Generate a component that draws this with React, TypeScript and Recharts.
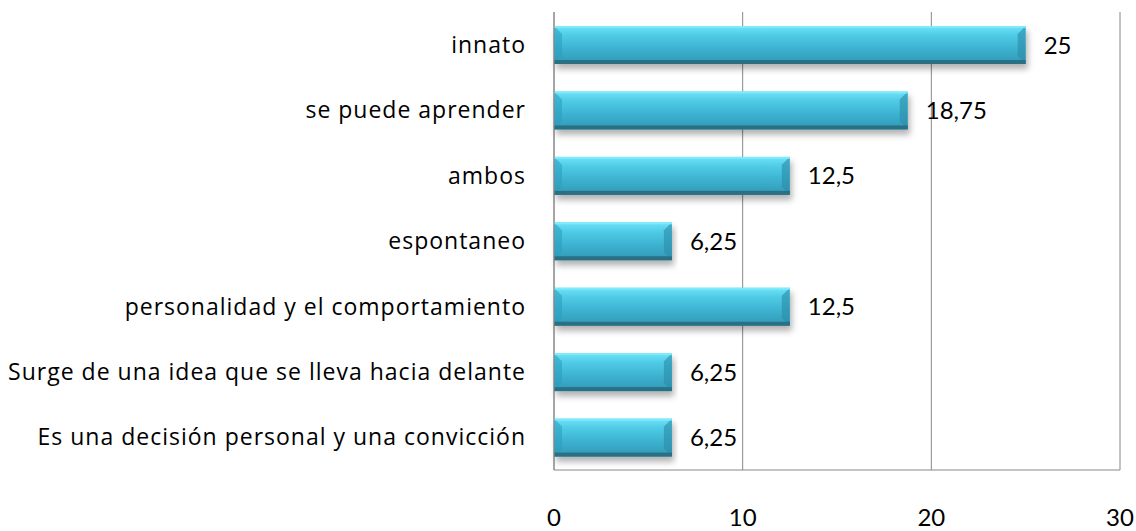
import { BarChart, Bar, XAxis, YAxis, CartesianGrid, LabelList } from "recharts";

const categories = [
  "innato",
  "se puede aprender",
  "ambos",
  "espontaneo",
  "personalidad y el comportamiento",
  "Surge de una idea que se lleva hacia delante",
  "Es una decisión personal y una convicción",
];
const values = [25, 18.75, 12.5, 6.25, 12.5, 6.25, 6.25];
const xTicks = [0, 10, 20, 30];

const data = categories.map((name, i) => ({ name, value: values[i] }));

const FONT = "Lato, 'Open Sans', sans-serif";
const LABEL_FONT = "'Open Sans', Lato, sans-serif";

function formatValue(v: number) {
  return String(v).replace(".", ",");
}

function BevelBar(props: any) {
  const { x, y, width, height } = props;
  if (!width || width <= 0) return null;
  const b = 8;
  return (
    <g filter="url(#barShadow)">
      <rect x={x} y={y} width={width} height={height} fill="url(#barFill)" />
      <polygon
        points={`${x},${y} ${x + b},${y + b} ${x + b},${y + height - b} ${x},${y + height}`}
        fill="#2a9cbb"
        opacity={0.55}
      />
      <polygon
        points={`${x + width},${y} ${x + width - b},${y + b} ${x + width - b},${y + height - b} ${x + width},${y + height}`}
        fill="#2b8aa6"
        opacity={0.6}
      />
      <rect x={x} y={y + height - 4} width={width} height={4} fill="#2a6f84" />
      <rect x={x} y={y} width={width} height={2} fill="#7eeafb" />
    </g>
  );
}

export default function App() {
  return (
    <div style={{ position: "absolute", left: 0, top: 0, background: "#fff" }}>
      <BarChart
        width={1136}
        height={531}
        data={data}
        layout="vertical"
        margin={{ top: 12, right: 16, bottom: 0, left: 0 }}
        barCategoryGap={0}
      >
        <defs>
          <linearGradient id="barFill" x1="0" y1="0" x2="0" y2="1">
            <stop offset="0" stopColor="#6fe3f7" />
            <stop offset="0.25" stopColor="#4fcbe6" />
            <stop offset="0.6" stopColor="#3cb2d0" />
            <stop offset="1" stopColor="#3298b5" />
          </linearGradient>
          <filter id="barShadow" x="-5%" y="-20%" width="110%" height="160%">
            <feDropShadow dx="2" dy="5" stdDeviation="3" floodColor="#000" floodOpacity="0.3" />
          </filter>
        </defs>
        <CartesianGrid horizontal={false} vertical stroke="#888" />
        <XAxis
          type="number"
          domain={[0, 30]}
          ticks={xTicks}
          interval={0}
          tickLine={false}
          axisLine={{ stroke: "#888" }}
          height={61}
          tick={{ fontSize: 24, fill: "#000", fontFamily: FONT, dy: 31 }}
        />
        <YAxis
          type="category"
          dataKey="name"
          width={554}
          tickLine={false}
          axisLine={{ stroke: "#888" }}
          tickMargin={22}
          tick={{ fontSize: 23, fill: "#000", fontFamily: LABEL_FONT, letterSpacing: 1 }}
        />
        <Bar dataKey="value" barSize={38} shape={<BevelBar />} isAnimationActive={false}>
          <LabelList
            dataKey="value"
            position="right"
            offset={18}
            formatter={(v: any) => formatValue(v)}
            style={{ fontSize: 24, fill: "#000", fontFamily: FONT }}
          />
        </Bar>
      </BarChart>
    </div>
  );
}
